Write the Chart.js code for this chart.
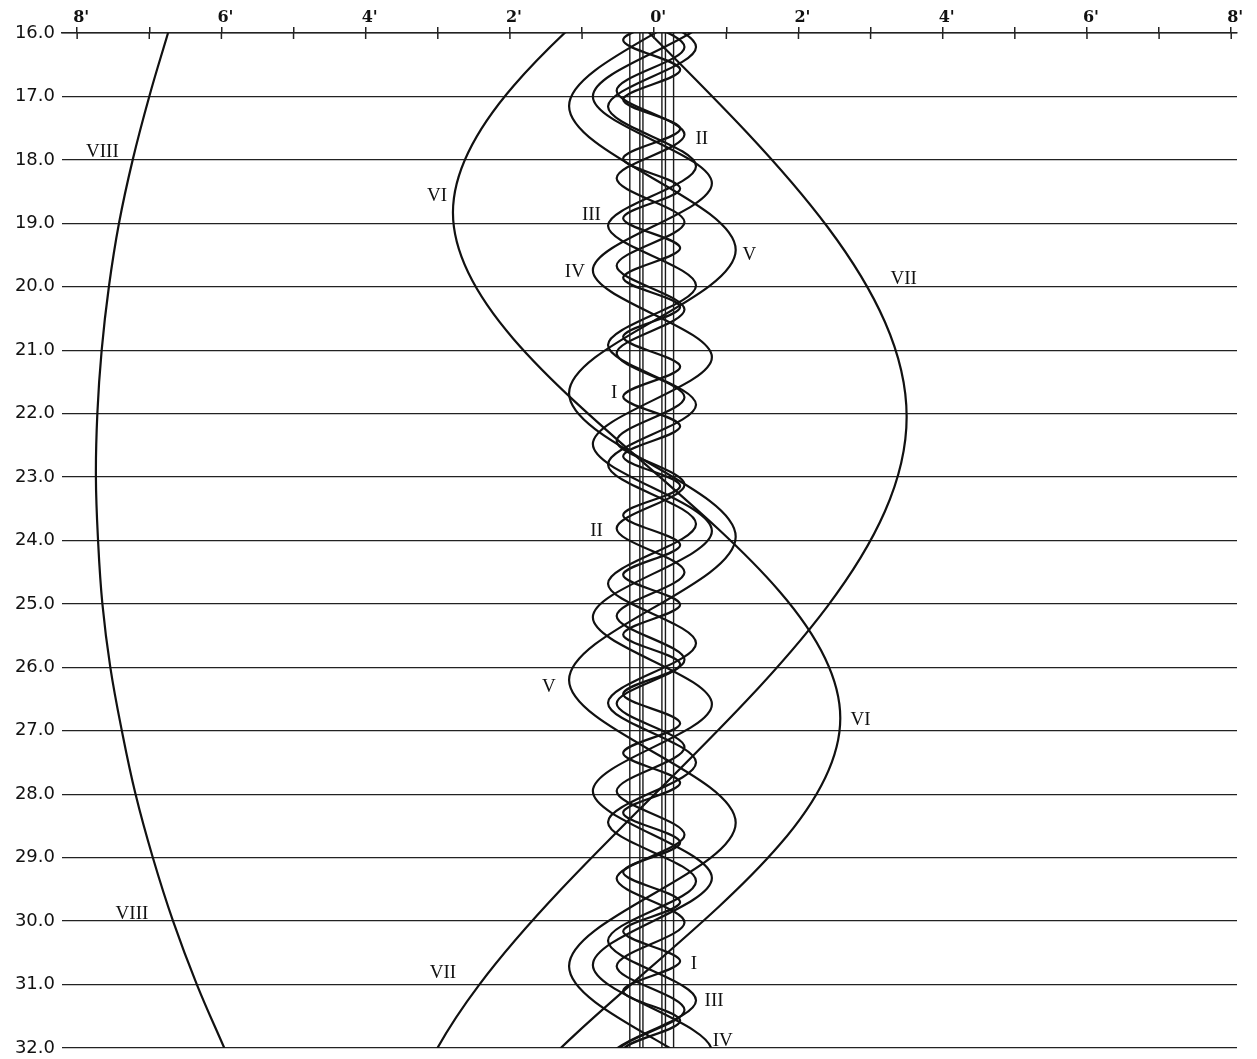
<!DOCTYPE html>
<html>
<head>
<meta charset="utf-8">
<script src="https://cdn.jsdelivr.net/npm/chart.js@4.4.0/dist/chart.umd.min.js"></script>
<style>
  html, body { margin: 0; padding: 0; background: #fff; }
  #wrap { width: 1257px; height: 1059px; }
</style>
</head>
<body>
<div id="wrap"><canvas id="moons"></canvas></div>
<script>
// offsets in arc minutes (top axis), days down the side
const xTicks = [-8, -7, -6, -5, -4, -3, -2, -1, 0, 1, 2, 3, 4, 5, 6, 7, 8];
const dayTicks = [16, 17, 18, 19, 20, 21, 22, 23, 24, 25, 26, 27, 28, 29, 30, 31, 32];

// [day, arcmin] at the elongations (one extra each side of the month)
const moonI = [[15.17, -0.43], [15.64, 0.36], [16.11, -0.43], [16.58, 0.36], [17.05, -0.43], [17.51, 0.36], [17.98, -0.43],
  [18.45, 0.36], [18.92, -0.43], [19.39, 0.36], [19.86, -0.43], [20.32, 0.36], [20.79, -0.43],
  [21.26, 0.36], [21.73, -0.43], [22.20, 0.36], [22.67, -0.43], [23.14, 0.36], [23.60, -0.43],
  [24.07, 0.36], [24.54, -0.43], [25.01, 0.36], [25.48, -0.43], [25.95, 0.36], [26.42, -0.43],
  [26.88, 0.36], [27.35, -0.43], [27.82, 0.36], [28.29, -0.43], [28.76, 0.36], [29.23, -0.43],
  [29.70, 0.36], [30.16, -0.43], [30.63, 0.36], [31.10, -0.43], [31.57, 0.36], [32.04, -0.43], [32.51, 0.36], [32.98, -0.43]];
const moonII = [[14.84, 0.42], [15.53, -0.52], [16.22, 0.42], [16.91, -0.52], [17.60, 0.42], [18.29, -0.52], [18.98, 0.42],
  [19.67, -0.52], [20.36, 0.42], [21.05, -0.52], [21.74, 0.42], [22.43, -0.52], [23.12, 0.42],
  [23.81, -0.52], [24.50, 0.42], [25.19, -0.52], [25.88, 0.42], [26.57, -0.52], [27.26, 0.42],
  [27.95, -0.52], [28.64, 0.42], [29.33, -0.52], [30.02, 0.42], [30.71, -0.52], [31.40, 0.42], [32.09, -0.52], [32.78, 0.42]];
const moonIII = [[14.34, 0.58], [15.28, -0.64], [16.22, 0.58], [17.16, -0.64], [18.10, 0.58], [19.04, -0.64], [19.98, 0.58],
  [20.92, -0.64], [21.86, 0.58], [22.80, -0.64], [23.74, 0.58], [24.68, -0.64], [25.62, 0.58],
  [26.56, -0.64], [27.50, 0.58], [28.44, -0.64], [29.37, 0.58], [30.31, -0.64], [31.25, 0.58], [32.19, -0.64], [33.13, 0.58]];
const moonIV = [[14.26, -0.85], [15.63, 0.80], [17.00, -0.85], [18.37, 0.80], [19.74, -0.85], [21.11, 0.80], [22.48, -0.85],
  [23.85, 0.80], [25.21, -0.85], [26.58, 0.80], [27.95, -0.85], [29.32, 0.80], [30.69, -0.85], [32.06, 0.80], [33.43, -0.85]];
const moonV = [[12.64, -1.18], [14.90, 1.13], [17.15, -1.18], [19.42, 1.13], [21.68, -1.18], [23.94, 1.13], [26.20, -1.18],
  [28.45, 1.13], [30.71, -1.18], [32.97, 1.13], [35.23, -1.18]];
const moonVI = [[2.88, -2.79], [10.85, 2.58], [18.83, -2.79], [26.80, 2.58], [34.77, -2.79], [42.74, 2.58]];
const moonVII = [[-1.90, 3.50], [10.10, -3.50], [22.05, 3.50], [34.00, -3.53], [46.00, 3.50]];
const moonVIII = [[16, -6.74], [17, -7.00], [18, -7.23], [19, -7.42], [20, -7.56], [21, -7.66], [22, -7.72],
  [23, -7.74], [24, -7.71], [25, -7.65], [26, -7.54], [27, -7.38], [28, -7.19], [29, -6.95],
  [30, -6.67], [31, -6.34], [32, -5.96]];

// the thin straight lines around the planet
const ringEdges = [-0.338, -0.199, -0.156, 0.107, 0.156, 0.269];

const curveLabels = [
  ["VIII", -7.65, 17.86], ["VIII", -7.24, 29.86],
  ["VII", 3.46, 19.86], ["VII", -2.93, 30.80],
  ["VI", -3.01, 18.55], ["VI", 2.86, 26.80],
  ["V", 1.32, 19.47], ["V", -1.46, 26.28],
  ["IV", -1.10, 19.75], ["IV", 0.95, 31.86],
  ["III", -0.87, 18.84], ["III", 0.83, 31.24],
  ["II", 0.66, 17.64], ["II", -0.80, 23.83],
  ["I", -0.555, 21.65], ["I", 0.55, 30.66],
];

const toPoints = (rows) => rows.map(([d, a]) => ({ x: a, y: d }));

const moons = [moonI, moonII, moonIII, moonIV, moonV, moonVI, moonVII];

const datasets = [
  ...ringEdges.map((e) => ({
    data: [{ x: e, y: dayTicks[0] }, { x: e, y: dayTicks[dayTicks.length - 1] }],
    borderColor: "#1a1a1a",
    borderWidth: 1.4,
    tension: 0,
  })),
  ...moons.map((m) => ({
    data: toPoints(m),
    borderColor: "#111",
    borderWidth: 2.2,
    cubicInterpolationMode: "monotone",
    capBezierPoints: false,
  })),
  {
    data: toPoints(moonVIII),
    borderColor: "#111",
    borderWidth: 2.2,
    tension: 0.4,
    capBezierPoints: false,
  },
];

const extras = {
  id: "extras",
  afterDatasetsDraw(chart) {
    const { ctx, chartArea } = chart;
    const { x, y } = chart.scales;
    ctx.save();
    ctx.strokeStyle = "#222";
    ctx.lineWidth = 1.5;
    x.ticks.forEach((t) => {
      const px = x.getPixelForValue(t.value);
      ctx.beginPath();
      ctx.moveTo(px, chartArea.top);
      ctx.lineTo(px, chartArea.top + 6);
      ctx.stroke();
    });
    ctx.fillStyle = "#111";
    ctx.font = '19px "Liberation Serif"';
    ctx.textAlign = "center";
    ctx.textBaseline = "alphabetic";
    curveLabels.forEach(([txt, a, d]) => {
      ctx.fillText(txt, x.getPixelForValue(a), y.getPixelForValue(d) + 6.5);
    });
    ctx.restore();
  },
};

new Chart(document.getElementById("moons"), {
  type: "line",
  data: { datasets },
  plugins: [extras],
  options: {
    indexAxis: "y",
    responsive: true,
    maintainAspectRatio: false,
    animation: false,
    layout: { padding: { left: 0, top: 0, right: 20, bottom: 11 } },
    plugins: { legend: { display: false }, tooltip: { enabled: false } },
    elements: { point: { radius: 0 } },
    scales: {
      x: {
        type: "linear",
        position: "top",
        min: -8.21,
        max: 8.08,
        afterBuildTicks: (s) => { s.ticks = xTicks.map((v) => ({ value: v })); },
        afterFit: (s) => { s.height = 33; s.paddingLeft = 0; s.paddingRight = 0; },
        grid: { drawOnChartArea: false, tickLength: 6, color: "#222", lineWidth: 1.5 },
        border: { color: "#222", width: 1.5 },
        ticks: {
          autoSkip: false,
          maxRotation: 0,
          padding: 0,
          labelOffset: 4,
          color: "#111",
          font: { family: "DejaVu Serif", size: 16, weight: "bold" },
          callback: (v) => (v % 2 === 0 ? Math.abs(v) + "'" : ""),
        },
      },
      y: {
        type: "linear",
        reverse: true,
        min: 16,
        max: 32,
        afterBuildTicks: (s) => { s.ticks = dayTicks.map((v) => ({ value: v })); },
        afterFit: (s) => { s.width = 62; s.paddingTop = 0; s.paddingBottom = 0; },
        grid: { drawTicks: false, color: "#222", lineWidth: 1.3 },
        border: { display: false },
        ticks: {
          padding: 7,
          color: "#111",
          font: { family: "DejaVu Sans", size: 18 },
          callback: (v) => v.toFixed(1),
        },
      },
    },
  },
});
</script>
</body>
</html>
